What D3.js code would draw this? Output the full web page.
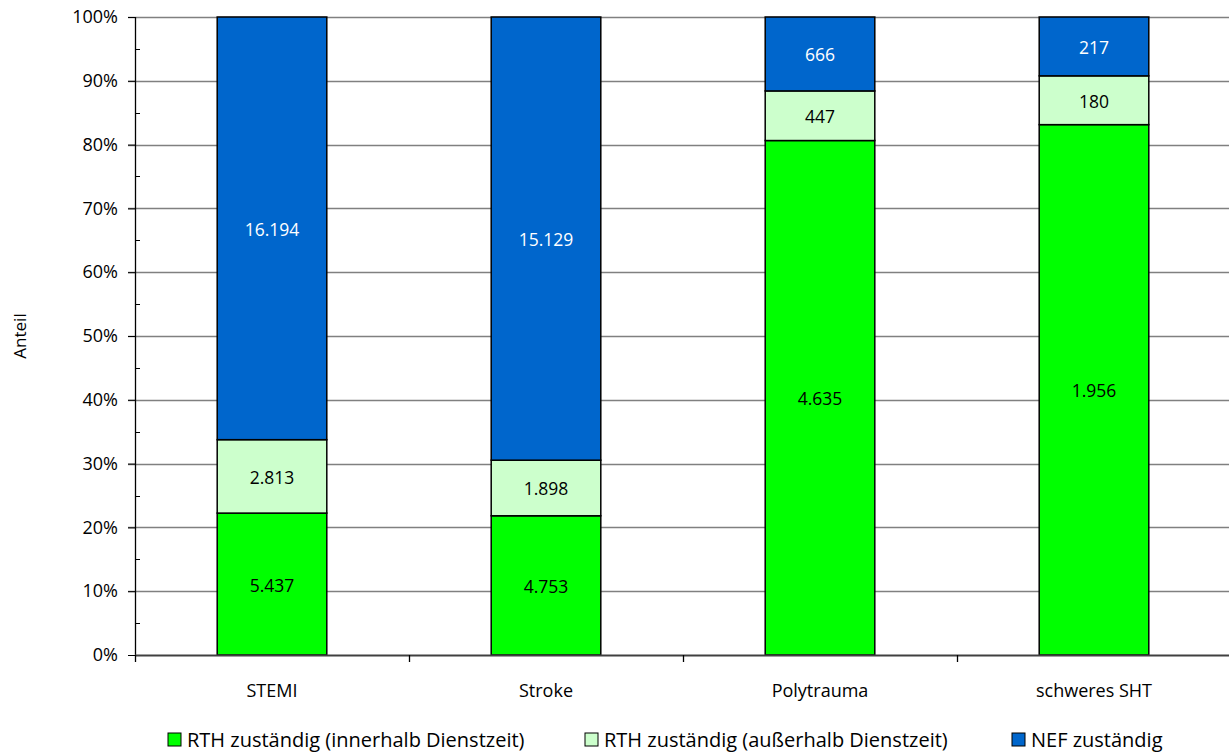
<!DOCTYPE html>
<html><head><meta charset="utf-8">
<script src="https://cdn.jsdelivr.net/npm/d3@7"></script>
<style>body{margin:0;background:#fff;} svg{display:block;} text{font-family:"Open Sans",sans-serif;}</style>
</head><body><svg id="c" width="1229" height="753"></svg>
<script>
const categories = ["STEMI", "Stroke", "Polytrauma", "schweres SHT"];
const seriesNames = ["RTH zuständig (innerhalb Dienstzeit)", "RTH zuständig (außerhalb Dienstzeit)", "NEF zuständig"];
const rthInner = [5437, 4753, 4635, 1956];
const rthOuter = [2813, 1898, 447, 180];
const nef = [16194, 15129, 666, 217];
const yTicks = [0, 0.1, 0.2, 0.3, 0.4, 0.5, 0.6, 0.7, 0.8, 0.9, 1.0];
const colors = ["#00ff00", "#ccffcc", "#0066cc"];
const labelColors = ["#000", "#000", "#fff"];

(function () {
const svg = d3.select("#c");
const pL = 135, pR = 1231, pT = 17, pB = 655;
const x = d3.scaleBand().domain(categories).range([pL, pR]).paddingInner(0.6).paddingOuter(0.3);
const y = d3.scaleLinear().domain([0, 1]).range([pB, pT]);
const fmt = d3.formatLocale({decimal: ",", thousands: ".", grouping: [3], currency: ["", "€"]}).format(",d");

const rows = categories.map((c, i) => ({cat: c, s0: rthInner[i], s1: rthOuter[i], s2: nef[i]}));
const stack = d3.stack().keys(["s0", "s1", "s2"]).offset(d3.stackOffsetExpand);
const series = stack(rows);

// grid lines
svg.append("g").selectAll("line").data(yTicks.slice(1)).join("line")
  .attr("x1", pL - 7).attr("x2", 1229).attr("y1", d => Math.round(y(d)) + 0.5).attr("y2", d => Math.round(y(d)) + 0.5)
  .attr("stroke", "#808080").attr("stroke-width", 1.3);

// minor ticks
svg.append("g").selectAll("line").data(d3.range(0.05, 1, 0.1)).join("line")
  .attr("x1", pL).attr("x2", pL + 5).attr("y1", d => Math.round(y(d)) + 0.5).attr("y2", d => Math.round(y(d)) + 0.5)
  .attr("stroke", "#000").attr("stroke-width", 1);

// bars
const g = svg.append("g");
series.forEach((s, k) => {
  g.append("g").selectAll("rect").data(s).join("rect")
    .attr("x", d => x(d.data.cat)).attr("width", x.bandwidth())
    .attr("y", d => y(d[1])).attr("height", d => y(d[0]) - y(d[1]))
    .attr("fill", colors[k]).attr("stroke", "#000").attr("stroke-width", 1.5);
});
series.forEach((s, k) => {
  g.append("g").selectAll("text").data(s).join("text")
    .attr("x", d => x(d.data.cat) + x.bandwidth() / 2)
    .attr("y", d => (y(d[0]) + y(d[1])) / 2 + 7.5)
    .attr("text-anchor", "middle").attr("font-size", 17.5).attr("fill", labelColors[k])
    .text(d => fmt(d.data[s.key]));
});

// y axis
const yAxis = d3.axisLeft(y).tickValues(yTicks).tickFormat(d3.format(".0%")).tickSize(7);
const ya = svg.append("g").attr("transform", `translate(${pL},0)`).call(yAxis);
ya.select(".domain").remove();
ya.selectAll(".tick line").attr("stroke", "#000");
ya.selectAll(".tick text").attr("font-size", 18).attr("font-family", "Open Sans").attr("fill", "#000").attr("dx", -7);
svg.append("line").attr("x1", pL + 0.5).attr("x2", pL + 0.5).attr("y1", pT).attr("y2", pB).attr("stroke", "#000").attr("stroke-width", 1.3);

// x axis
svg.append("line").attr("x1", pL).attr("x2", 1229).attr("y1", pB + 0.5).attr("y2", pB + 0.5).attr("stroke", "#404040").attr("stroke-width", 2);
const bounds = d3.range(categories.length).map(i => pL + i * x.step());
svg.append("g").selectAll("line").data(bounds).join("line")
  .attr("x1", d => Math.round(d) + 0.5).attr("x2", d => Math.round(d) + 0.5).attr("y1", pB).attr("y2", pB + 7)
  .attr("stroke", "#000").attr("stroke-width", 1.3);
svg.append("g").selectAll("text").data(categories).join("text")
  .attr("x", d => x(d) + x.bandwidth() / 2).attr("y", 697).attr("text-anchor", "middle")
  .attr("font-size", 18).text(d => d);

// y label
svg.append("text").attr("transform", "translate(26,336) rotate(-90)").attr("text-anchor", "middle")
  .attr("font-size", 17).text("Anteil");

// legend
const legX = [168, 585, 1012];
const lg = svg.append("g");
seriesNames.forEach((n, i) => {
  lg.append("rect").attr("x", legX[i]).attr("y", 733).attr("width", 13).attr("height", 13)
    .attr("fill", colors[i]).attr("stroke", "#000").attr("stroke-width", 1);
  lg.append("text").attr("x", legX[i] + 19).attr("y", 747).attr("font-size", 20).text(n);
});
})();
</script></body></html>
